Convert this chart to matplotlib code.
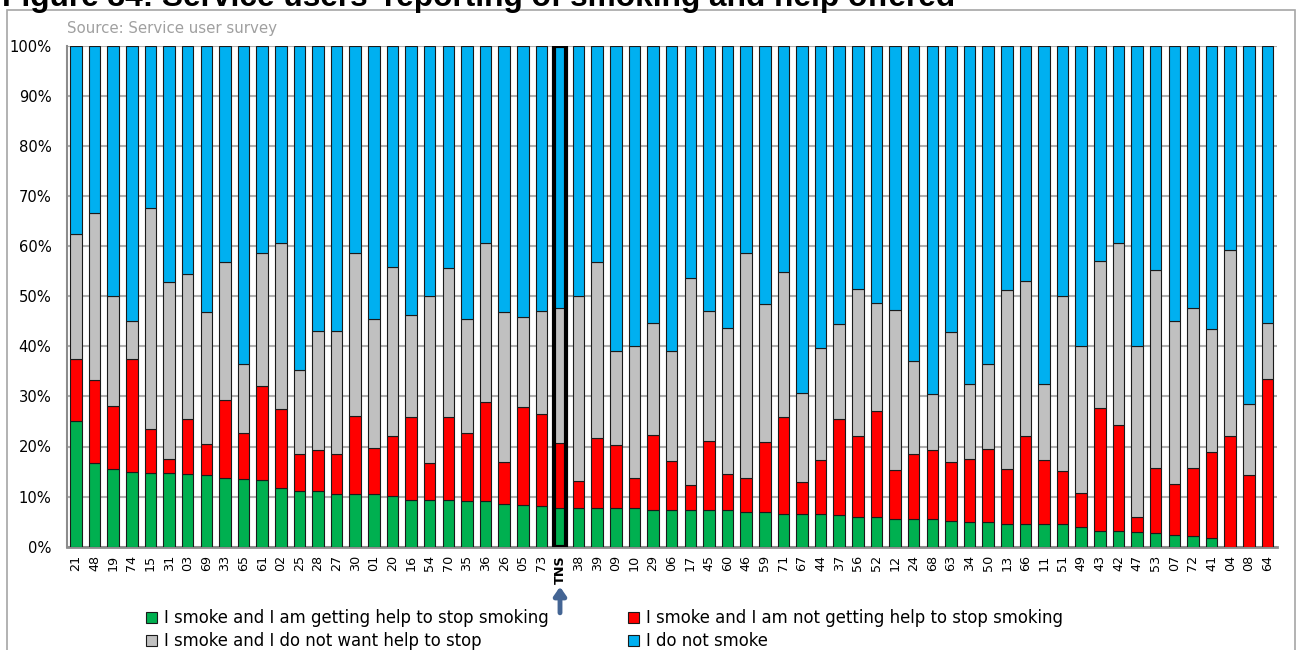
import matplotlib
matplotlib.use("Agg")
import matplotlib.pyplot as plt
from matplotlib.patches import Rectangle
import numpy as np

areas = ["21", "48", "19", "74", "15", "31", "03", "69", "33", "65", "61", "02", "25",
         "28", "27", "30", "01", "20", "16", "54", "70", "35", "36", "26", "05", "73",
         "TNS", "38", "39", "09", "10", "29", "06", "17", "45", "60", "46", "59", "71",
         "67", "44", "37", "56", "52", "12", "24", "68", "63", "34", "50", "13", "66",
         "11", "51", "49", "43", "42", "47", "53", "07", "72", "41", "04", "08", "64"]

# % of service users in each response group
getting_help = [25.0, 16.7, 15.6, 15.0, 14.7, 14.7, 14.5, 14.3, 13.8, 13.6, 13.3, 11.8, 11.1,
                11.1, 10.6, 10.6, 10.6, 10.2, 9.3, 9.3, 9.3, 9.1, 9.1, 8.5, 8.3, 8.2,
                7.7, 7.8, 7.8, 7.8, 7.8, 7.4, 7.4, 7.4, 7.4, 7.4, 7.0, 7.0, 6.5,
                6.5, 6.5, 6.3, 5.9, 5.9, 5.6, 5.6, 5.6, 5.1, 4.9, 4.9, 4.5, 4.5,
                4.5, 4.5, 4.0, 3.2, 3.2, 2.9, 2.7, 2.4, 2.2, 1.8, 0.0, 0.0, 0.0]
not_getting_help = [12.5, 16.6, 12.5, 22.5, 8.8, 2.9, 11.0, 6.1, 15.5, 9.1, 18.7, 15.7, 7.4,
                    8.3, 7.9, 15.5, 9.1, 11.8, 16.6, 7.4, 16.6, 13.6, 19.7, 8.5, 19.5, 18.3,
                    12.9, 5.4, 13.8, 12.5, 6.0, 14.9, 9.8, 4.9, 13.6, 7.1, 6.8, 13.8, 19.4,
                    6.5, 10.9, 19.1, 16.1, 21.2, 9.8, 12.9, 13.8, 11.8, 12.7, 14.7, 11.1, 17.5,
                    12.9, 10.7, 6.7, 24.4, 21.1, 3.0, 13.1, 10.1, 13.6, 17.2, 22.0, 14.3, 33.5]
no_help_wanted = [25.0, 33.4, 21.9, 7.5, 44.1, 35.3, 29.0, 26.5, 27.6, 13.7, 26.7, 33.1, 16.7,
                  23.7, 24.6, 32.5, 25.8, 33.9, 20.4, 33.3, 29.7, 22.8, 31.8, 29.8, 18.0, 20.5,
                  27.0, 36.8, 35.2, 18.8, 26.3, 22.3, 21.9, 41.4, 26.0, 29.1, 44.8, 27.6, 28.9,
                  17.7, 22.3, 19.0, 29.4, 21.5, 31.8, 18.5, 11.1, 25.9, 14.9, 16.9, 35.6, 31.0,
                  15.1, 34.8, 29.4, 29.5, 36.4, 34.2, 39.4, 32.5, 31.8, 24.5, 37.2, 14.2, 11.1]
non_smokers = [37.5, 33.3, 50.0, 55.0, 32.4, 47.1, 45.5, 53.1, 43.1, 63.6, 41.3, 39.4, 64.8,
               56.9, 56.9, 41.4, 54.5, 44.1, 53.7, 50.0, 44.4, 54.5, 39.4, 53.2, 54.2, 53.0,
               52.4, 50.0, 43.2, 60.9, 59.9, 55.4, 60.9, 46.3, 53.0, 56.4, 41.4, 51.6, 45.2,
               69.3, 60.3, 55.6, 48.6, 51.4, 52.8, 63.0, 69.5, 57.2, 67.5, 63.5, 48.8, 47.0,
               67.5, 50.0, 59.9, 42.9, 39.3, 59.9, 44.8, 55.0, 52.4, 56.5, 40.8, 71.5, 55.4]

series = [
    ("I smoke and I am getting help to stop smoking", getting_help, "#00B050"),
    ("I smoke and I am not getting help to stop smoking", not_getting_help, "#FF0000"),
    ("I smoke and I do not want help to stop", no_help_wanted, "#C0C0C0"),
    ("I do not smoke", non_smokers, "#00B0F0"),
]

W, H = 1299, 650
fig = plt.figure(figsize=(W / 100, H / 100), dpi=100)
plt.rcParams["font.family"] = ["DejaVu Sans"]

# outer chart frame and title
fig.patches.append(Rectangle((7 / W, -0.01), 1288 / W, 1 - 10 / H + 0.01,
                             transform=fig.transFigure, fill=False,
                             edgecolor="#A6A6A6", lw=1.2))
fig.text(2 / W, 1 - 6 / H, "Figure 34: Service users' reporting of smoking and help offered",
         fontsize=22.8, fontweight="bold", family="Liberation Sans", va="baseline", ha="left")
fig.text(67 / W, 1 - 28 / H, "Source: Service user survey", fontsize=10.8, color="#A0A0A0",
         va="center", ha="left")

ax = fig.add_axes([66.7 / W, 103.3 / H, 1210 / W, 501 / H])
x = np.arange(len(areas))
bottom = np.zeros(len(areas))
handles = []
for label, vals, col in series:
    vals = np.array(vals)
    b = ax.bar(x, vals, 0.62, bottom=bottom, color=col, edgecolor="#1A1A1A",
               linewidth=0.8, label=label, zorder=3)
    handles.append(b)
    bottom += vals

# heavy outline for the TNS bar
tns = areas.index("TNS")
ax.add_patch(Rectangle((tns - 0.31, 0), 0.62, bottom[tns], fill=False,
                       edgecolor="black", lw=3, zorder=4))

ax.set_xlim(-0.5, len(areas) - 0.5)
ax.set_ylim(0, 100)
ax.set_yticks(np.arange(0, 101, 10))
ax.set_yticklabels([f"{v}%" for v in range(0, 101, 10)], fontsize=10.6)
ax.set_xticks(x)
ax.set_xticklabels(areas, rotation=90, fontsize=9.2)
ax.get_xticklabels()[tns].set_fontweight("bold")
ax.tick_params(length=0, pad=6)
ax.tick_params(axis="y", pad=11)
ax.grid(axis="y", color="#B0B0B0", lw=1.5, zorder=0)
for s in ["top", "right"]:
    ax.spines[s].set_visible(False)
ax.spines["bottom"].set_color("#8C8C8C")
ax.spines["bottom"].set_linewidth(2)
ax.spines["left"].set_color("#8C8C8C")
ax.spines["left"].set_linewidth(1.5)

ax.annotate("", xy=(tns, -0.080), xycoords=("data", "axes fraction"),
            xytext=(tns, -0.132), textcoords=("data", "axes fraction"),
            arrowprops=dict(arrowstyle="-|>,head_width=0.35,head_length=0.5",
                            color="#446594", lw=3.5, shrinkA=0, shrinkB=0))

# legend filled row by row: green, red / grey, blue
order = [0, 2, 1, 3]
leg = fig.legend([handles[i] for i in order], [series[i][0] for i in order], ncol=2,
                 loc="upper left", bbox_to_anchor=(146 / W, 1 - 609 / H), frameon=False,
                 fontsize=11.9, handlelength=0.65, handleheight=0.65, handletextpad=0.45,
                 columnspacing=4.8, labelspacing=0.33, borderaxespad=0, borderpad=0)

fig.savefig("out.png", dpi=100)
